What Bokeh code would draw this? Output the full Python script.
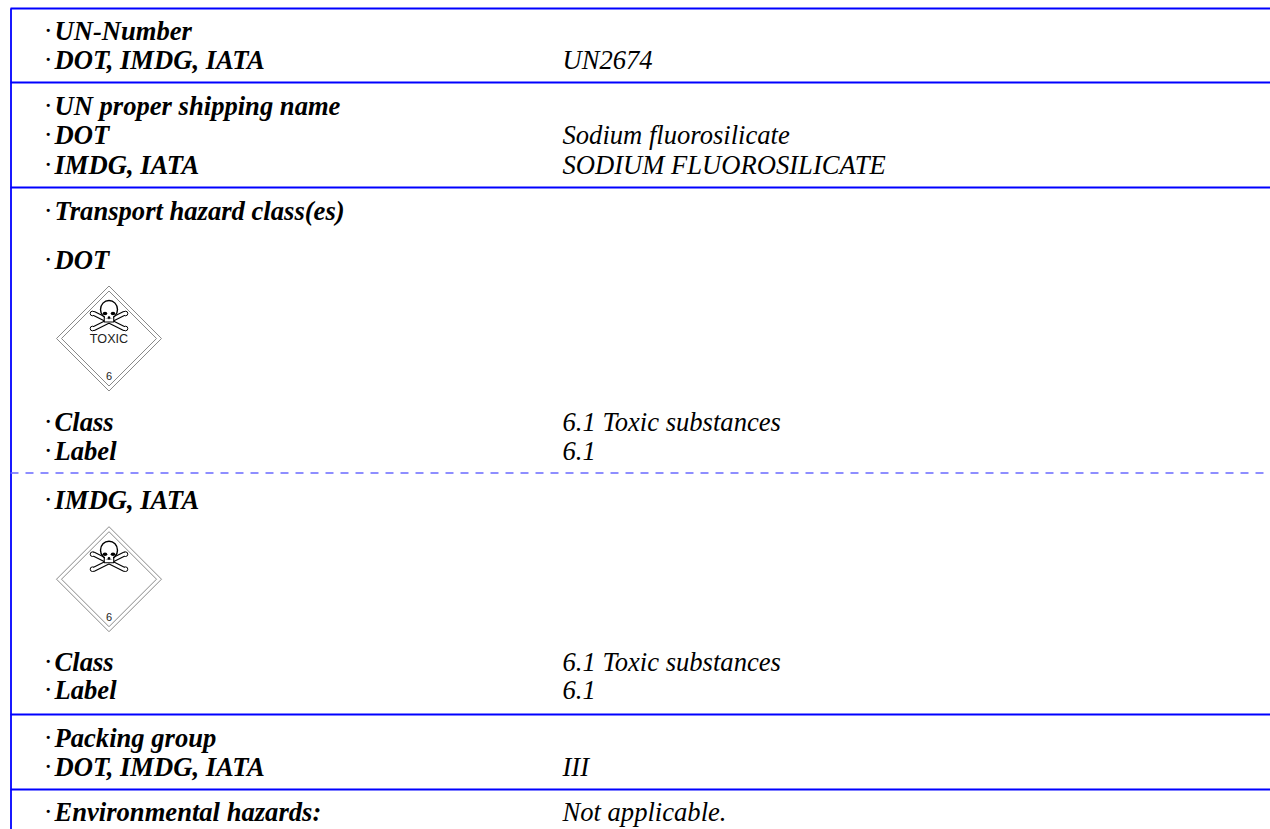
from bokeh.plotting import figure
from bokeh.models import Range1d
from bokeh.core.properties import value
from bokeh.embed import file_html
from bokeh.resources import INLINE

# Text rows of the sheet
labels = ["UN-Number", "DOT, IMDG, IATA", "UN proper shipping name", "DOT", "IMDG, IATA",
          "Transport hazard class(es)", "DOT", "Class", "Label", "IMDG, IATA", "Class", "Label",
          "Packing group", "DOT, IMDG, IATA", "Environmental hazards:"]
label_y = [30, 59, 105, 134, 164, 210, 259, 421, 450, 499, 661, 689, 737, 766, 811]
values = ["UN2674", "Sodium fluorosilicate", "SODIUM FLUOROSILICATE", "6.1 Toxic substances", "6.1",
          "6.1 Toxic substances", "6.1", "III", "Not applicable."]
value_y = [59, 134, 164, 421, 450, 661, 689, 766, 811]
solid_y = [8, 82, 187, 714, 789]
dash_y = [472.5]
placard_cy = [338, 578.7]
placard_text = ["TOXIC", ""]

FONT = value("Liberation Serif")
BLUE = "#0000ff"

p = figure(width=1270, height=829, output_backend="svg", toolbar_location=None,
           x_range=Range1d(0, 1270), y_range=Range1d(829, 0),
           min_border=0, min_border_left=0, min_border_right=0, min_border_top=0, min_border_bottom=0,
           margin=0)
p.axis.visible = False
p.grid.visible = False
p.outline_line_color = None
p.background_fill_color = "white"

# rules
for y in solid_y:
    p.line([10, 1270], [y, y], line_color=BLUE, line_width=1.8)
p.line([10.5, 10.5], [8, 829], line_color=BLUE, line_width=1.8)
for y in dash_y:
    p.line([10, 1270], [y, y], line_color="#6a6aff", line_width=1.4, line_dash="8 7")

# text
kw = dict(text_font=FONT, text_font_size="26.6px", text_color="black", text_baseline="alphabetic")
p.text([44] * len(labels), label_y, text=["·"] * len(labels), text_font_style="italic", **kw)
p.text([54] * len(labels), label_y, text=labels, text_font_style="bold italic", **kw)
p.text([562] * len(values), value_y, text=values, text_font_style="italic", **kw)

# placards
cx = 108.5
for cy, word in zip(placard_cy, placard_text):
    for h in (52.5, 47.5):
        p.line([cx - h, cx, cx + h, cx, cx - h], [cy, cy - h, cy, cy + h, cy],
               line_color="#8a8a8a", line_width=1.0)
    # bones
    for sign in (1, -1):
        xs = [cx - sign * 15, cx + sign * 15]; ys = [cy - 25, cy - 10]
        p.line(xs, ys, line_color="black", line_width=5.0, line_cap="round")
        p.scatter([cx - sign * 16.5, cx + sign * 16.5], [cy - 25, cy - 10], size=4.6, marker="circle",
                  fill_color="white", line_color="black", line_width=1.0)
    for sign in (1, -1):
        xs = [cx - sign * 15, cx + sign * 15]; ys = [cy - 25, cy - 10]
        p.line(xs, ys, line_color="white", line_width=2.8, line_cap="round")
    # skull
    p.rect([cx], [cy - 20], width=9.5, height=7, fill_color="white", line_color="black", line_width=1.1)
    p.ellipse([cx], [cy - 29], width=17, height=18, fill_color="white", line_color="black", line_width=1.4)
    p.rect([cx], [cy - 23], width=8, height=6, fill_color="white", line_color=None)
    p.ellipse([cx - 4, cx + 4], [cy - 25, cy - 25], width=4.6, height=3.4, fill_color="black", line_color=None)
    p.ellipse([cx], [cy - 21], width=2.6, height=2.6, fill_color="black", line_color=None)
    if word:
        p.text([cx], [cy], text=[word], text_font=value("Liberation Sans"), text_font_size="12.6px",
               text_align="center", text_color="#222222", text_baseline="alphabetic")
    p.text([cx], [cy + 37.5], text=["6"], text_font=value("Liberation Sans"), text_font_size="11px",
           text_align="center", text_color="#222222", text_baseline="alphabetic")

open("out.html", "w").write(file_html(p, INLINE))
